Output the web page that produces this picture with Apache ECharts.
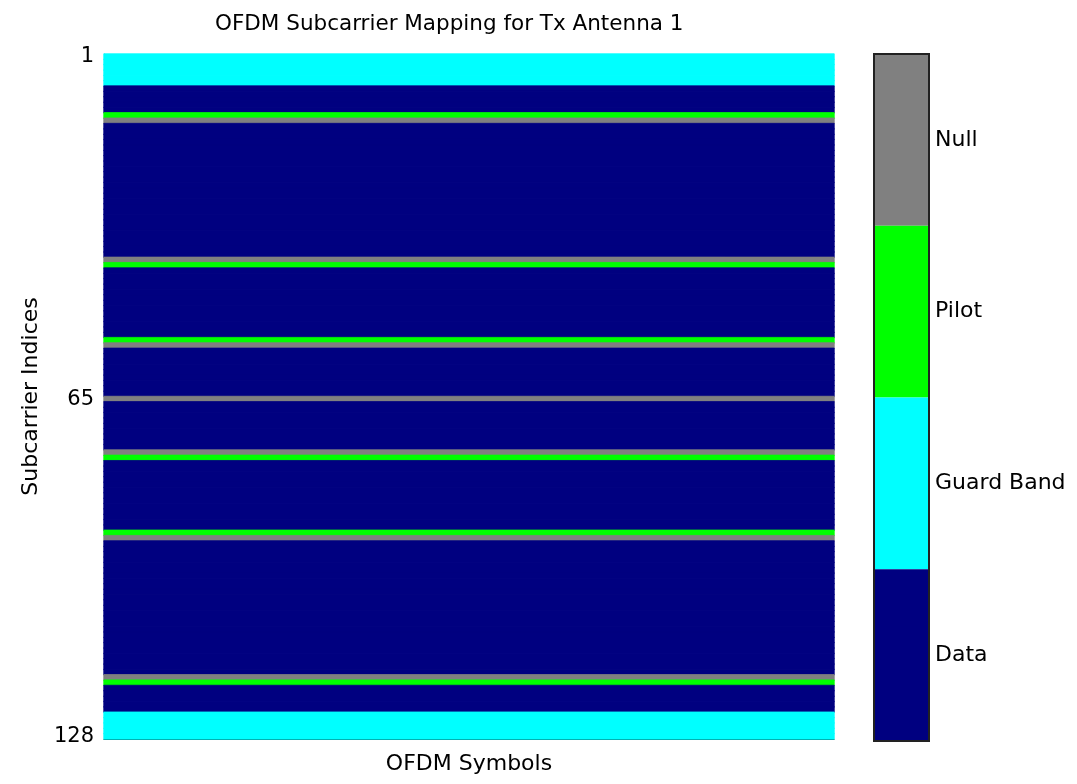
<!DOCTYPE html>
<html>
<head>
<meta charset="utf-8">
<title>OFDM Subcarrier Mapping</title>
<script src="https://cdn.jsdelivr.net/npm/echarts@6/dist/echarts.min.js"></script>
<style>
  html, body { margin: 0; padding: 0; background: #fff; }
  #chart { width: 1077px; height: 784px; }
</style>
</head>
<body>
<div id="chart"></div>
<script>
// FFT size and carrier layout (1-based subcarrier indices)
const fftLength = 128;
const guardBands = [6, 5];                       // left, right guard carriers
const pilotIdx = [12, 40, 54, 76, 90, 118];      // pilots for Tx antenna 1
const nullIdx = [13, 39, 55, 65, 75, 91, 117];   // DC null + antenna 2 pilot slots
const symbols = ['1'];                           // OFDM symbols
const yTickShow = [1, 65, 128];

// legend categories: value -> name, colour
const typeNames = ['Data', 'Guard Band', 'Pilot', 'Null'];
const typeColors = ['#000080', '#00ffff', '#00ff00', '#808080'];

// build carrier type per subcarrier
const subcarriers = [];
const carrierType = [];
for (let k = 1; k <= fftLength; k++) {
  subcarriers.push(String(k));
  let t = 0;
  if (k <= guardBands[0] || k > fftLength - guardBands[1]) t = 1;
  else if (pilotIdx.includes(k)) t = 2;
  else if (nullIdx.includes(k)) t = 3;
  carrierType.push(t);
}

// heatmap cells; a same-colour border hides the antialiasing seams between rows
const heatData = [];
symbols.forEach((s, xi) => {
  carrierType.forEach((t, yi) => heatData.push({
    value: [xi, yi, t],
    itemStyle: { borderColor: typeColors[t], borderWidth: 0.8 }
  }));
});

const chart = echarts.init(document.getElementById('chart'));
const font = 'DejaVu Sans';

chart.setOption({
  animation: false,
  backgroundColor: '#fff',
  title: {
    text: 'OFDM Subcarrier Mapping for Tx Antenna 1',
    left: 210,
    top: 8,
    textStyle: { fontFamily: font, fontSize: 21.5, fontWeight: 'normal', color: '#000' }
  },
  grid: { left: 104, right: 243, top: 54, bottom: 45 },
  xAxis: {
    type: 'category',
    data: symbols,
    name: 'OFDM Symbols',
    nameLocation: 'middle',
    nameGap: 14,
    nameTextStyle: { fontFamily: font, fontSize: 22, color: '#000' },
    axisLine: { lineStyle: { color: '#000', width: 1 } },
    axisTick: { show: false },
    axisLabel: { show: false },
    splitLine: { show: false }
  },
  yAxis: {
    type: 'category',
    data: subcarriers,
    inverse: true,
    name: 'Subcarrier Indices',
    nameLocation: 'middle',
    nameGap: 62,
    nameTextStyle: { fontFamily: font, fontSize: 22, color: '#000' },
    axisLine: { lineStyle: { color: '#9aa0b8', width: 1 } },
    axisTick: { show: false },
    axisLabel: {
      fontFamily: font,
      fontSize: 21,
      color: '#000',
      margin: 10,
      interval: (i) => yTickShow.includes(i + 1)
    },
    splitLine: { show: false }
  },
  visualMap: {
    type: 'piecewise',
    orient: 'vertical',
    left: 874,
    top: 54,
    padding: 0,
    itemWidth: 55,
    itemHeight: 171.75,
    itemGap: 0,
    itemSymbol: 'rect',
    textGap: 6,
    align: 'left',
    selectedMode: false,
    hoverLink: false,
    dimension: 2,
    textStyle: { fontFamily: font, fontSize: 22, color: '#000' },
    pieces: typeNames.map((n, i) => ({ value: i, label: n, color: typeColors[i] }))
  },
  graphic: [{
    type: 'rect',
    z: 100,
    silent: true,
    shape: { x: 874, y: 54, width: 55, height: 687 },
    style: { fill: 'none', stroke: '#222', lineWidth: 2 }
  }],
  series: [{
    type: 'heatmap',
    data: heatData,
    emphasis: { disabled: true }
  }]
});
</script>
</body>
</html>
